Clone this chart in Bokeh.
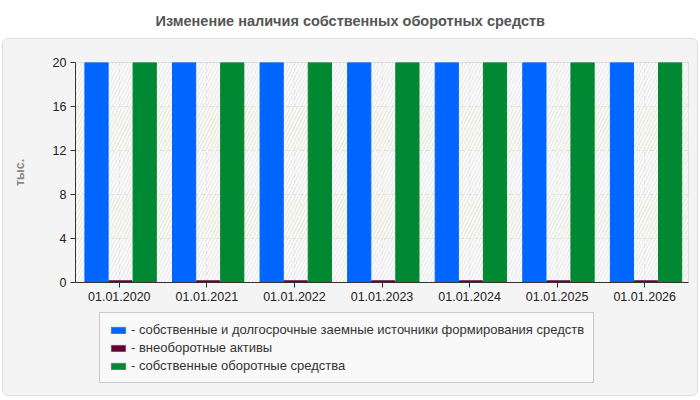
from bokeh.plotting import figure
from bokeh.models import (Range1d, FactorRange, Legend, LegendItem, ColumnDataSource,
                          FixedTicker, BoxAnnotation)
from bokeh.transform import dodge
from bokeh.layouts import column
from bokeh.embed import file_html
from bokeh.resources import INLINE
from bokeh.core.properties import value

title_text = "Изменение наличия собственных оборотных средств"
y_label = "тыс."
categories = ["01.01.2020", "01.01.2021", "01.01.2022", "01.01.2023",
              "01.01.2024", "01.01.2025", "01.01.2026"]
own_longterm = [20, 20, 20, 20, 20, 20, 20]
noncurrent = [0.15, 0.15, 0.15, 0.15, 0.15, 0.15, 0.15]
own_working = [20, 20, 20, 20, 20, 20, 20]
series_names = ["- собственные и долгосрочные заемные источники формирования средств",
                "- внеоборотные активы",
                "- собственные оборотные средства"]
colors = ["#0066ff", "#660033", "#008833"]
y_ticks = [0, 4, 8, 12, 16, 20]

FONT = "Liberation Sans"
PANEL = "#f4f4f4"

src = ColumnDataSource(dict(cat=categories, a=own_longterm, b=noncurrent, c=own_working))
fields = ["a", "b", "c"]
offsets = [-0.26, 0.015, 0.29]

# ---- title strip
tfig = figure(width=700, height=38, x_range=Range1d(0, 700), y_range=Range1d(0, 38),
              x_axis_type=None, y_axis_type=None, output_backend="svg",
              toolbar_location=None, min_border=0)
tfig.outline_line_color = None
tfig.grid.visible = False
tfig.text(x=[155], y=[18], text=[title_text], text_align="left", text_baseline="middle",
          text_font=value(FONT), text_font_size="14.5px", text_font_style="bold",
          text_color="#555555")

# ---- main chart
p = figure(x_range=FactorRange(*categories), y_range=Range1d(0, 20),
           width=694, height=268, output_backend="svg", toolbar_location=None,
           min_border_left=72, min_border_right=9, min_border_top=23, min_border_bottom=25)
p.border_fill_color = PANEL
p.background_fill_color = "#ffffff"
p.outline_line_color = "#dddddd"

# alternate horizontal bands: light yellow bands, hatch over the whole plot area
p.ygrid.band_fill_color = "#fcfdf3"
p.ygrid.band_fill_alpha = 1.0
hatch = BoxAnnotation(fill_color=None, fill_alpha=0, line_color=None, level="underlay",
                      hatch_pattern="/", hatch_color="#e2e2e2", hatch_alpha=0.75,
                      hatch_scale=7, hatch_weight=1.5)
p.add_layout(hatch)

renderers = []
for f, off, col in zip(fields, offsets, colors):
    r = p.vbar(x=dodge("cat", off, range=p.x_range), top=f, width=0.265, source=src,
               fill_color=col, line_color=col)
    renderers.append(r)

p.yaxis.ticker = FixedTicker(ticks=y_ticks)
p.yaxis.minor_tick_line_color = None
p.yaxis.axis_label = y_label
p.yaxis.axis_label_text_font = FONT
p.yaxis.axis_label_text_font_size = "12.5px"
p.yaxis.axis_label_text_font_style = "bold"
p.yaxis.axis_label_text_color = "#888888"
p.yaxis.axis_label_standoff = 23
for ax in (p.xaxis, p.yaxis):
    ax.major_label_text_font = FONT
    ax.major_label_text_font_size = "12.5px"
    ax.major_label_text_color = "#222222"
    ax.axis_line_color = "#333333"
    ax.major_tick_line_color = "#333333"
    ax.major_tick_out = 5
    ax.major_tick_in = 0
    ax.major_label_standoff = 4

p.xgrid.grid_line_color = "#dddddd"
p.xgrid.grid_line_dash = "4 3"
p.ygrid.grid_line_color = "#dddddd"
p.ygrid.grid_line_dash = "4 3"

# ---- legend strip (same series, bars hidden, only the legend shows)
lfig = figure(x_range=FactorRange(*categories), y_range=Range1d(0, 20),
              width=694, height=88, x_axis_type=None, y_axis_type=None,
              output_backend="svg", toolbar_location=None, min_border=0)
lfig.border_fill_color = PANEL
lfig.background_fill_color = PANEL
lfig.outline_line_color = None
lfig.grid.visible = False
lrends = []
for f, off, col in zip(fields, offsets, colors):
    r = lfig.vbar(x=dodge("cat", off, range=lfig.x_range), top=f, width=0.265, source=src,
                  fill_color=col, line_color="#666666", line_alpha=0.5)
    r.visible = False
    lrends.append(r)

legend = Legend(items=[LegendItem(label=n, renderers=[r]) for n, r in zip(series_names, lrends)],
                location=(24, 12), orientation="vertical", click_policy="none")
legend.label_text_font = FONT
legend.label_text_font_size = "13px"
legend.label_text_color = "#333333"
legend.glyph_width = 18
legend.glyph_height = 8
legend.label_height = 15
legend.spacing = 3
legend.padding = 9
legend.margin = 0
legend.label_standoff = 4
legend.border_line_color = "#999999"
legend.background_fill_color = "#f9f9f9"
legend.background_fill_alpha = 1.0
lfig.add_layout(legend, "center")

panel = column(p, lfig)
panel.margin = (0, 0, 0, 2)
panel.styles = {"border": "1px solid #dddddd", "border-radius": "6px",
                "background-color": PANEL, "overflow": "hidden"}

layout = column(tfig, panel)
open("out.html", "w").write(file_html(layout, INLINE))
